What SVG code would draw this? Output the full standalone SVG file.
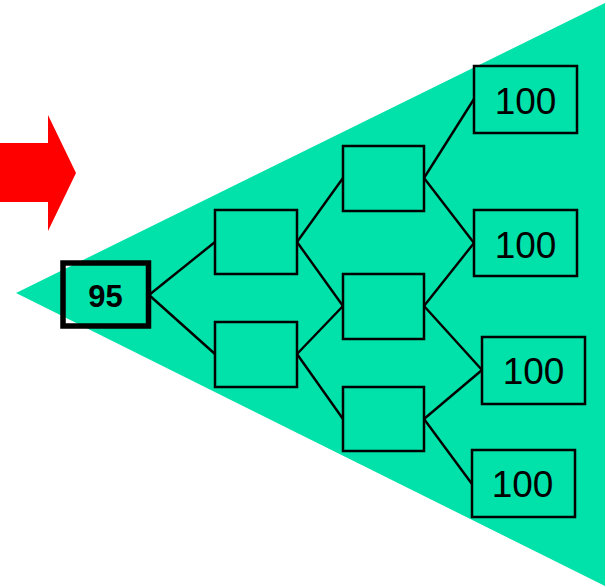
<svg xmlns="http://www.w3.org/2000/svg" width="606" height="587" viewBox="0 0 606 587">
<style>
.box{fill:none;stroke:#000;stroke-width:2.5}
.lbl{font-family:"Liberation Sans",Arial,sans-serif;font-size:37px;fill:#000;text-anchor:middle}
.conn line{stroke:#000;stroke-width:2.4}
</style>
<rect width="606" height="587" fill="#fff"/>
<polygon id="arrow" points="0,143 48,143 48,115 76,173 48,231 48,202 0,202" fill="#ff0000"/>
<polygon id="cone" points="16,293 605,3 605,586" fill="#00e2a9"/>
<g class="conn">
<line x1="149" y1="295" x2="215" y2="242"/>
<line x1="149" y1="295" x2="215" y2="354"/>
<line x1="297" y1="242" x2="343" y2="178"/>
<line x1="297" y1="242" x2="343" y2="306"/>
<line x1="297" y1="354" x2="343" y2="306"/>
<line x1="297" y1="354" x2="343" y2="419"/>
<line x1="424" y1="178" x2="474" y2="99"/>
<line x1="424" y1="178" x2="474" y2="243"/>
<line x1="424" y1="306" x2="474" y2="243"/>
<line x1="424" y1="306" x2="482" y2="370"/>
<line x1="424" y1="419" x2="482" y2="370"/>
<line x1="424" y1="419" x2="472" y2="484"/>
</g>
<g id="root">
<rect x="63" y="263" width="85.5" height="63" fill="none" stroke="#000" stroke-width="5.5"/>
<text x="105.5" y="307" font-family="Liberation Sans,Arial,sans-serif" font-weight="bold" font-size="31" text-anchor="middle">95</text>
</g>
<g id="n1a"><rect class="box" x="215" y="210" width="82" height="64"/></g>
<g id="n1b"><rect class="box" x="215" y="322" width="82" height="65"/></g>
<g id="n2a"><rect class="box" x="343" y="146" width="81" height="65"/></g>
<g id="n2b"><rect class="box" x="343" y="274" width="81" height="65"/></g>
<g id="n2c"><rect class="box" x="343" y="387" width="81" height="64"/></g>
<g id="leaf1"><rect class="box" x="474" y="66" width="103" height="67"/><text class="lbl" x="525.5" y="114">100</text></g>
<g id="leaf2"><rect class="box" x="474" y="210" width="103" height="66"/><text class="lbl" x="525.5" y="258">100</text></g>
<g id="leaf3"><rect class="box" x="482" y="337" width="103" height="67"/><text class="lbl" x="533.5" y="384">100</text></g>
<g id="leaf4"><rect class="box" x="472" y="450" width="103" height="67"/><text class="lbl" x="522.5" y="497">100</text></g>
</svg>
